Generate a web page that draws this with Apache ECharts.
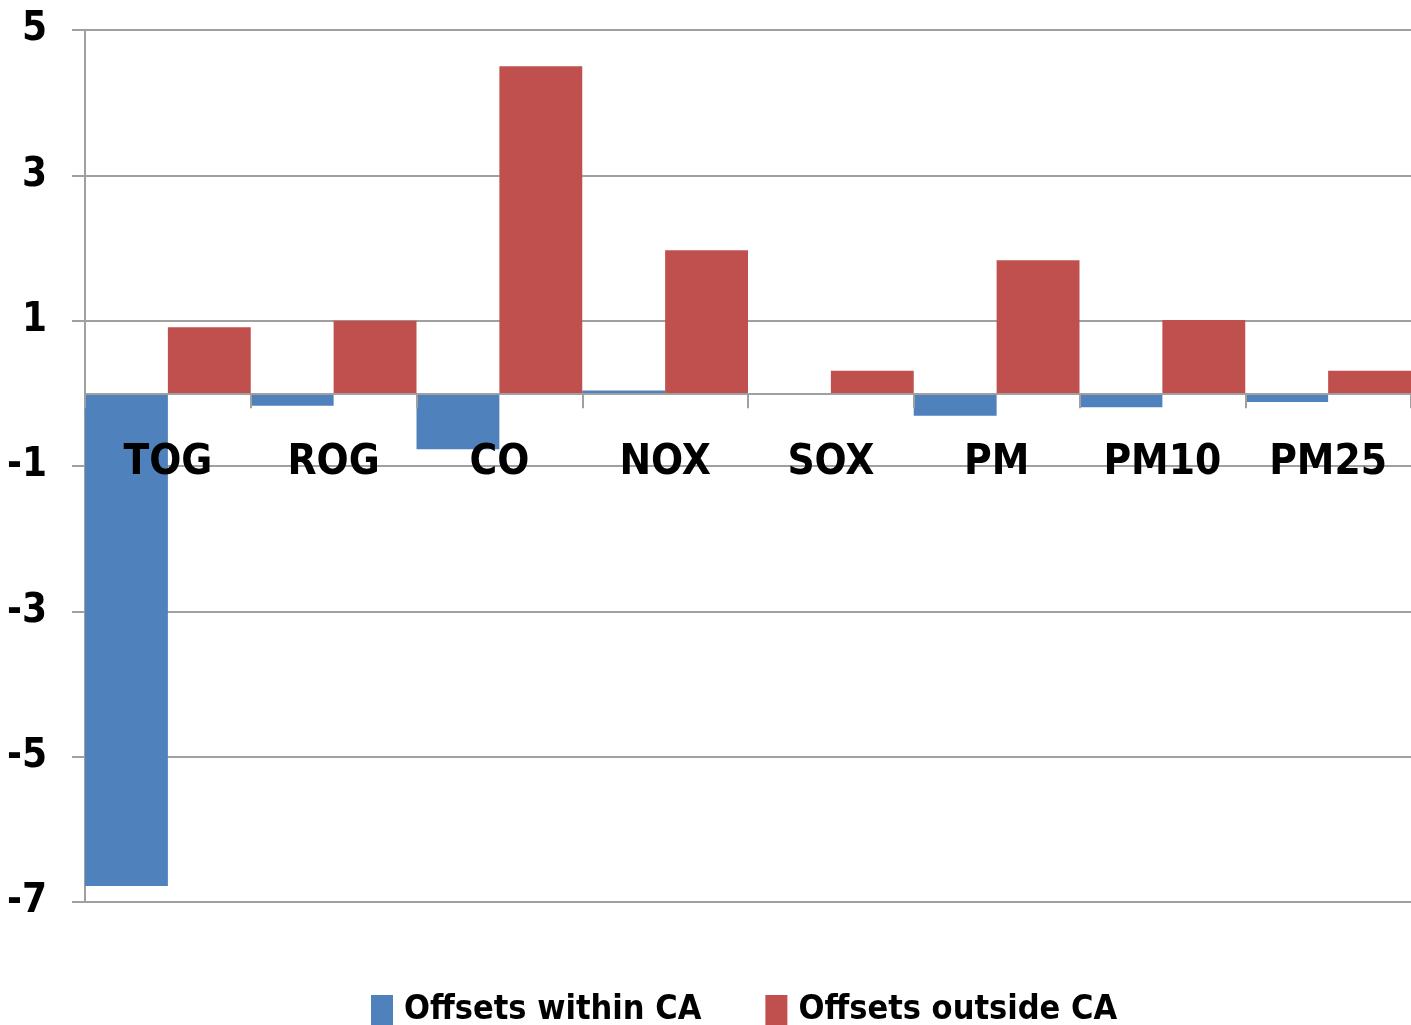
<!DOCTYPE html>
<html><head><meta charset="utf-8">
<script src="https://cdn.jsdelivr.net/npm/echarts@6/dist/echarts.min.js"></script>
<style>html,body{margin:0;padding:0;background:#fff}#c{width:1411px;height:1025px}</style>
</head><body><div id="c"></div>
<script>
const categories = ['TOG','ROG','CO','NOX','SOX','PM','PM10','PM25'];
const withinCA = [-6.78,-0.17,-0.77,0.04,0,-0.31,-0.19,-0.12];
const outsideCA = [0.91,1.0,4.5,1.97,0.31,1.83,1.01,0.31];
const seriesNames = ['Offsets within CA','Offsets outside CA'];
const yTicks = {min:-7,max:5,interval:2};
const FONT = "'DejaVu Sans Condensed','Liberation Sans Narrow',sans-serif";
const GRID = {left:85,right:0,top:30,bottom:123};
const plotH = 1025 - GRID.top - GRID.bottom;
const zeroOffset = -plotH * (0 - yTicks.min) / (yTicks.max - yTicks.min);
const chart = echarts.init(document.getElementById('c'));
chart.setOption({
  animation:false,
  backgroundColor:'#fff',
  grid:Object.assign({containLabel:false},GRID),
  legend:{top:988,left:366,itemWidth:22,itemHeight:30,itemGap:64,icon:'rect',
    textStyle:{fontFamily:FONT,fontSize:34,color:'#000',fontWeight:'bold',padding:[0,0,0,6]},
    data:seriesNames},
  xAxis:{type:'category',data:categories,z:5,position:'bottom',offset:zeroOffset,
    axisLine:{onZero:false,lineStyle:{color:'#a0a0a0',width:2}},
    axisTick:{show:true,length:15,lineStyle:{color:'#a0a0a0',width:2}},
    axisLabel:{margin:49,fontFamily:FONT,fontSize:42,color:'#000',fontWeight:'bold',interval:0},
    splitLine:{show:false}},
  yAxis:{type:'value',min:yTicks.min,max:yTicks.max,interval:yTicks.interval,
    axisLine:{show:true,lineStyle:{color:'#a0a0a0',width:2}},
    axisTick:{show:true,length:13,lineStyle:{color:'#a0a0a0',width:2}},
    axisLabel:{margin:38,fontFamily:FONT,fontSize:40,color:'#000',fontWeight:'bold'},
    splitLine:{lineStyle:{color:'#a0a0a0',width:2}}},
  series:[
    {name:seriesNames[0],type:'bar',data:withinCA,barGap:'0%',barCategoryGap:'0%',itemStyle:{color:'#4F81BD'}},
    {name:seriesNames[1],type:'bar',data:outsideCA,barGap:'0%',barCategoryGap:'0%',itemStyle:{color:'#C0504D'}}
  ]
});
</script></body></html>
